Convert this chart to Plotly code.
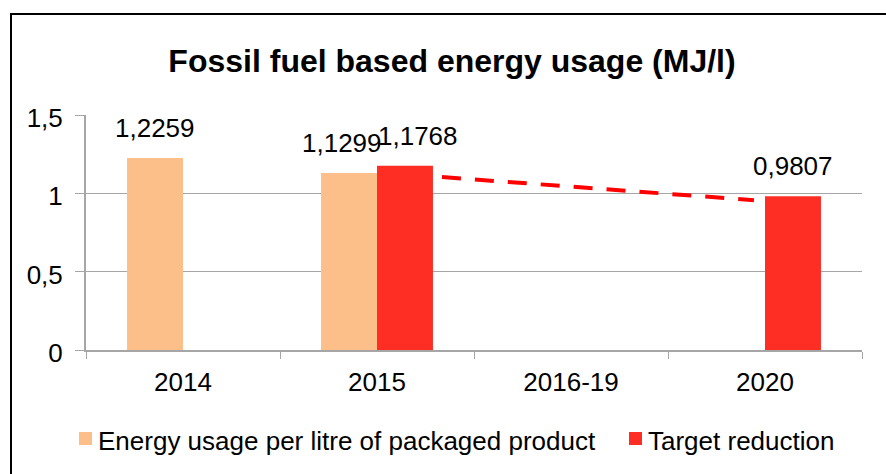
import plotly.graph_objects as go

# ---- data ----
categories = ["2014", "2015", "2016-19", "2020"]
energy_usage = [1.2259, 1.1299, None, None]
target_reduction = [None, 1.1768, None, 0.9807]
trend_x = [1.335, 2.943]          # category-index positions of dashed trend line
trend_y = [1.104, 0.956]
y_ticks = [0, 0.5, 1, 1.5]
y_tick_labels = ["0", "0,5", "1", "1,5"]
series_names = ["Energy usage per litre of packaged product", "Target reduction"]
title_text = "Fossil fuel based energy usage (MJ/l)"

# ---- style ----
W, H = 886, 474
ML, MR, MT, MB = 86, 24, 115, 124
PW, PH = W - ML - MR, H - MT - MB
ORANGE = "#FDBF89"
RED = "#FF2E25"
FONT = "Liberation Sans, Arial, Helvetica, sans-serif"
GRID = "#A6A6A6"
FS = 26


def px(x):
    return (x - ML) / PW


def py(y):
    return (H - MB - y) / PH


def fmt(v):
    return f"{v:.4f}".replace(".", ",")


fig = go.Figure()
fig.add_trace(go.Bar(x=categories, y=energy_usage, name=series_names[0],
                     marker=dict(color=ORANGE, line=dict(width=0))))
fig.add_trace(go.Bar(x=categories, y=target_reduction, name=series_names[1],
                     marker=dict(color=RED, line=dict(width=0))))
fig.add_trace(go.Scatter(x=trend_x, y=trend_y, xaxis="x2", mode="lines",
                         line=dict(color="#FF0000", width=4, dash="19px,14px"),
                         showlegend=False, hoverinfo="skip"))

# data labels
bar_half = PW / 4 * (1 - 0.423) / 4  # offset of each bar center from category center
nudges = {(0, 1): -7, (1, 1): 13}
annotations = []
for si, series in enumerate([energy_usage, target_reduction]):
    for ci, v in enumerate(series):
        if v is None:
            continue
        off = (-1 if si == 0 else 1) * bar_half + nudges.get((si, ci), 0)
        annotations.append(dict(x=ci, y=v, xref="x", yref="y",
                                text=fmt(v), showarrow=False, yanchor="bottom",
                                xshift=off, yshift=13,
                                font=dict(family=FONT, size=FS, color="#000")))

# manual legend
legend_items = [(79, ORANGE, series_names[0]), (629, RED, series_names[1])]
shapes = []
for x0, col, name in legend_items:
    shapes.append(dict(type="rect", xref="paper", yref="paper",
                       x0=px(x0), x1=px(x0 + 13), y0=py(445), y1=py(432),
                       fillcolor=col, line=dict(width=0)))
    annotations.append(dict(x=px(x0 + 17), y=py(441), xref="paper", yref="paper",
                            text=name, showarrow=False, xanchor="left", yanchor="middle",
                            font=dict(family=FONT, size=FS, color="#000")))

# chart border (left and top edges)
shapes.append(dict(type="path", xref="paper", yref="paper",
                   path=f"M {px(11)},{py(480)} L {px(11)},{py(14)} L {px(890)},{py(14)}",
                   line=dict(color="#000", width=2)))

fig.update_layout(
    width=W, height=H,
    margin=dict(l=ML, r=MR, t=MT, b=MB),
    paper_bgcolor="white", plot_bgcolor="white",
    barmode="group", bargap=0.423, bargroupgap=0,
    showlegend=False,
    title=dict(text=f"<b>{title_text}</b>", x=452 / W, xanchor="center",
               y=1 - 61 / H, yanchor="middle", xref="container", yref="container",
               font=dict(family=FONT, size=32, color="#000")),
    font=dict(family=FONT, size=FS, color="#000"),
    xaxis=dict(type="category", showgrid=False, showline=True, linecolor=GRID, linewidth=2,
               ticks="outside", tickson="boundaries", ticklen=7, tickcolor=GRID, tickwidth=1,
               ticklabelstandoff=8, tickfont=dict(family=FONT, size=FS, color="#000"),
               range=[-0.5, 3.5]),
    xaxis2=dict(overlaying="x", range=[-0.5, 3.5], visible=False),
    yaxis=dict(range=[0, 1.5], tickvals=y_ticks, ticktext=y_tick_labels,
               showgrid=True, gridcolor=GRID, gridwidth=1,
               showline=True, linecolor=GRID, linewidth=2,
               ticks="outside", ticklen=9, tickcolor=GRID, tickwidth=1,
               ticklabelstandoff=7, ticklabelshift=3, zeroline=False,
               tickfont=dict(family=FONT, size=FS, color="#000")),
    annotations=annotations,
    shapes=shapes,
)

fig.write_html("out.html", config={"displayModeBar": False},
               post_script="document.body.style.margin='0';")
